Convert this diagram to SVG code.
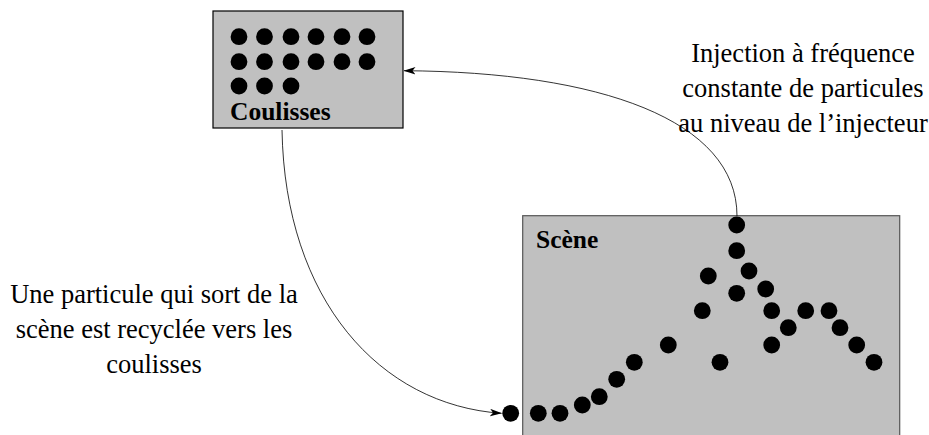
<svg xmlns="http://www.w3.org/2000/svg" width="929" height="435" viewBox="0 0 929 435">
<defs>
<style>
.box{fill:#c0c0c0;stroke:#000;stroke-width:1.2}
.dot{fill:#000}
.lbl{font-weight:bold;font-size:25.5px;fill:#000}
.txt{font-size:26.5px;fill:#000;text-anchor:middle}
.conn{fill:none;stroke:#000;stroke-width:0.8}
</style>
<marker id="ah" viewBox="0 0 12 8" refX="11.5" refY="4" markerWidth="12" markerHeight="8" markerUnits="userSpaceOnUse" orient="auto">
<path d="M0,0.3 L12,4 L0,7.7 L3,4 Z" fill="#000"/>
</marker>
</defs>
<g id="coulisses">
<rect class="box" x="213" y="11" width="190" height="117"/>
<g class="dot">
<circle cx="239" cy="36.7" r="8.4"/><circle cx="264.5" cy="36.7" r="8.4"/><circle cx="291" cy="36.7" r="8.4"/><circle cx="316" cy="36.7" r="8.4"/><circle cx="342" cy="36.7" r="8.4"/><circle cx="367" cy="36.7" r="8.4"/>
<circle cx="239" cy="61.7" r="8.4"/><circle cx="264.5" cy="61.7" r="8.4"/><circle cx="291" cy="61.7" r="8.4"/><circle cx="316" cy="61.7" r="8.4"/><circle cx="342" cy="61.7" r="8.4"/><circle cx="367" cy="61.7" r="8.4"/>
<circle cx="239" cy="86" r="8.4"/><circle cx="264.5" cy="86" r="8.4"/><circle cx="291" cy="86" r="8.4"/>
</g>
<text class="lbl" font-family="Liberation Serif, serif" x="230" y="120">Coulisses</text>
</g>
<g id="scene">
<rect x="522.7" y="215.7" width="377" height="230" fill="#c0c0c0" stroke="#555" stroke-width="1.2"/>
<text class="lbl" font-family="Liberation Serif, serif" x="536" y="248">Scène</text>
<g class="dot">
<circle cx="736.7" cy="225" r="8.4"/>
<circle cx="736.7" cy="250.7" r="8.4"/>
<circle cx="708.3" cy="276" r="8.4"/>
<circle cx="749" cy="271" r="8.4"/>
<circle cx="736.7" cy="293.3" r="8.4"/>
<circle cx="765.7" cy="289" r="8.4"/>
<circle cx="702.3" cy="310.7" r="8.4"/>
<circle cx="771.7" cy="310.7" r="8.4"/>
<circle cx="805.7" cy="310.7" r="8.4"/>
<circle cx="829" cy="310.7" r="8.4"/>
<circle cx="788.3" cy="327.7" r="8.4"/>
<circle cx="840" cy="327.7" r="8.4"/>
<circle cx="668.3" cy="345" r="8.4"/>
<circle cx="771.7" cy="345" r="8.4"/>
<circle cx="856.7" cy="345" r="8.4"/>
<circle cx="720" cy="362.3" r="8.4"/>
<circle cx="634.3" cy="362.3" r="8.4"/>
<circle cx="874" cy="362.3" r="8.4"/>
<circle cx="616.7" cy="379.3" r="8.4"/>
<circle cx="599.3" cy="396.7" r="8.4"/>
<circle cx="582.3" cy="405" r="8.4"/>
<circle cx="560" cy="413.3" r="8.4"/>
<circle cx="538.3" cy="413.3" r="8.4"/>
<circle cx="510.7" cy="413.3" r="8.4"/>
</g>
</g>
<g id="connectors">
<path class="conn" d="M282,130 C285,300 380,405 501.5,413.3" marker-end="url(#ah)"/>
<path class="conn" d="M737,216 C737,120 600,72 404,70.7" marker-end="url(#ah)"/>
</g>
<g id="label-injection" font-family="Liberation Serif, serif">
<text class="txt" x="803" y="61.5">Injection à fréquence</text>
<text class="txt" x="803" y="96.5">constante de particules</text>
<text class="txt" x="803" y="131.5">au niveau de l’injecteur</text>
</g>
<g id="label-recyclage" font-family="Liberation Serif, serif">
<text class="txt" x="154" y="302.5">Une particule qui sort de la</text>
<text class="txt" x="154" y="337.5">scène est recyclée vers les</text>
<text class="txt" x="154" y="372.5">coulisses</text>
</g>
</svg>
